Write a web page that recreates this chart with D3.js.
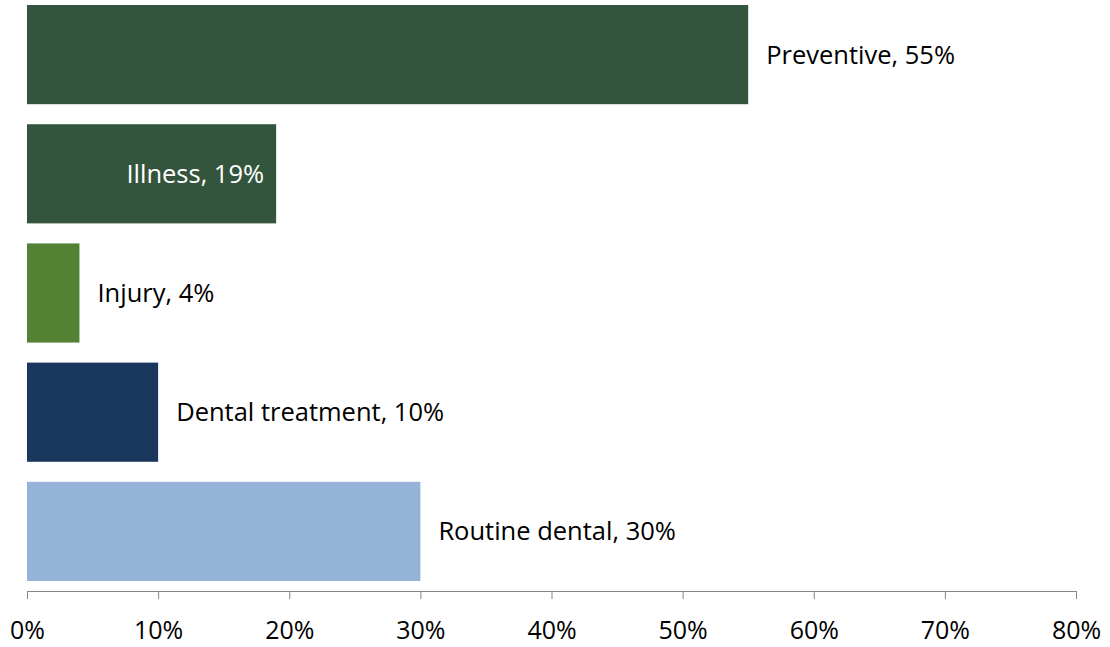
<!DOCTYPE html>
<html>
<head>
<meta charset="utf-8">
<script src="https://cdn.jsdelivr.net/npm/d3@7"></script>
<style>
  body { margin: 0; background: #fff; }
  text { font-family: "Open Sans", Lato, sans-serif; }
</style>
</head>
<body>
<div id="chart"></div>
<script>
// Visit reasons share
const categories = ['Preventive', 'Illness', 'Injury', 'Dental treatment', 'Routine dental'];
const values = [55, 19, 4, 10, 30];
const colors = ['#33553d', '#33553d', '#548235', '#1a375e', '#95b3d7'];
const insideLabel = [false, true, false, false, false];
const xTicks = [0, 10, 20, 30, 40, 50, 60, 70, 80];

const W = 1110, H = 647;
const svg = d3.select('#chart').append('svg')
  .attr('width', W).attr('height', H);

const x = d3.scaleLinear().domain([0, 80]).range([27, 1076]);
const y = d3.scaleBand().domain(categories)
  .range([-5, 591]).paddingInner(0.168).paddingOuter(0.084);

// Bars
svg.selectAll('rect.bar').data(categories).enter().append('rect')
  .attr('class', 'bar')
  .attr('x', x(0))
  .attr('y', d => y(d))
  .attr('width', (d, i) => x(values[i]) - x(0))
  .attr('height', y.bandwidth())
  .attr('fill', (d, i) => colors[i]);

// Labels
svg.selectAll('text.lbl').data(categories).enter().append('text')
  .attr('class', 'lbl')
  .attr('x', (d, i) => insideLabel[i] ? x(values[i]) - 12 : x(values[i]) + 18)
  .attr('y', d => y(d) + y.bandwidth() / 2)
  .attr('dy', '0.35em')
  .attr('text-anchor', (d, i) => insideLabel[i] ? 'end' : 'start')
  .attr('font-size', 25.5)
  .attr('fill', (d, i) => insideLabel[i] ? '#fff' : '#000')
  .text((d, i) => `${d}, ${values[i]}%`);

// X axis
const ax = svg.append('g')
  .attr('transform', 'translate(0,591)')
  .call(d3.axisBottom(x).tickValues(xTicks).tickSize(8).tickSizeOuter(0)
    .tickFormat(d => d + '%'));
ax.select('.domain').attr('stroke', '#868686');
ax.selectAll('.tick line').attr('stroke', '#868686');
ax.selectAll('.tick text')
  .attr('font-size', 25)
  .attr('fill', '#000')
  .attr('y', 30);
</script>
</body>
</html>
